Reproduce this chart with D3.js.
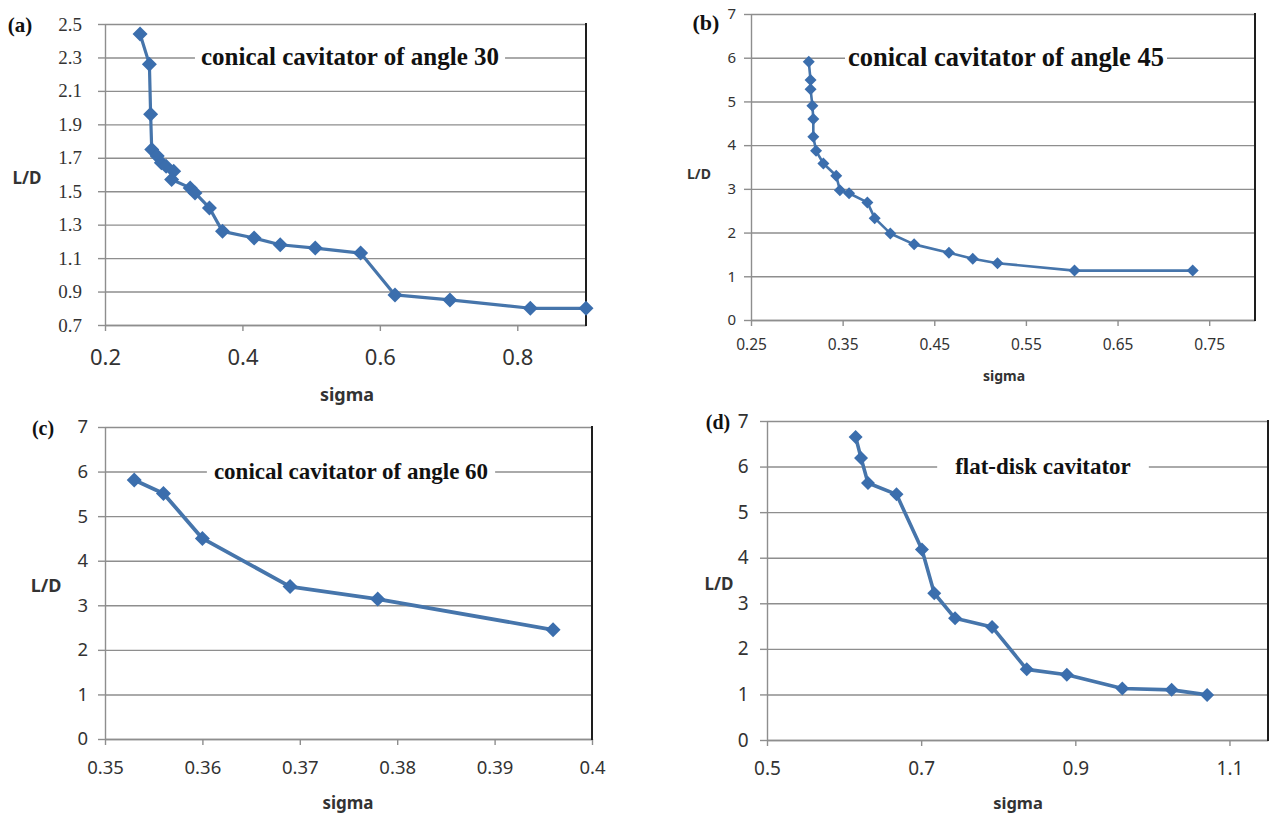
<!DOCTYPE html>
<html>
<head>
<meta charset="utf-8">
<script src="https://cdn.jsdelivr.net/npm/d3@7"></script>
<style>
    html, body { margin: 0; padding: 0; background: #fff; }
    svg { display: block; }
</style>
</head>
<body>
<svg id="chart" width="1271" height="814"></svg>
<script>
// (a) conical cavitator of angle 30
const sigmaA = [0.251, 0.2646, 0.2664, 0.268, 0.276, 0.282, 0.289, 0.300, 0.297, 0.324, 0.331, 0.352, 0.371,
    0.417, 0.455, 0.506, 0.572, 0.622, 0.702, 0.819, 0.900];
const ldA = [2.44, 2.26, 1.96, 1.75, 1.71, 1.67, 1.65, 1.62, 1.57, 1.52, 1.49, 1.40, 1.26,
    1.22, 1.18, 1.16, 1.13, 0.88, 0.85, 0.80, 0.80];
const xTicksA = [0.2, 0.4, 0.6, 0.8];
const yTicksA = [0.7, 0.9, 1.1, 1.3, 1.5, 1.7, 1.9, 2.1, 2.3, 2.5];

// (b) conical cavitator of angle 45
const sigmaB = [0.313, 0.315, 0.315, 0.317, 0.318, 0.318, 0.321, 0.329, 0.343, 0.347, 0.357, 0.377, 0.385,
    0.402, 0.428, 0.466, 0.492, 0.519, 0.603, 0.732];
const ldB = [5.91, 5.49, 5.28, 4.90, 4.60, 4.19, 3.87, 3.58, 3.30, 2.97, 2.90, 2.69, 2.33,
    1.98, 1.73, 1.54, 1.40, 1.30, 1.13, 1.13];
const xTicksB = [0.25, 0.35, 0.45, 0.55, 0.65, 0.75];
const yTicksB = [0, 1, 2, 3, 4, 5, 6, 7];

// (c) conical cavitator of angle 60
const sigmaC = [0.353, 0.356, 0.360, 0.369, 0.378, 0.396];
const ldC = [5.81, 5.51, 4.50, 3.42, 3.14, 2.45];
const xTicksC = [0.35, 0.36, 0.37, 0.38, 0.39, 0.4];
const yTicksC = [0, 1, 2, 3, 4, 5, 6, 7];

// (d) flat-disk cavitator
const sigmaD = [0.615, 0.622, 0.631, 0.668, 0.701, 0.717, 0.744, 0.792, 0.837, 0.889, 0.961, 1.025, 1.071];
const ldD = [6.65, 6.19, 5.64, 5.39, 4.18, 3.22, 2.67, 2.48, 1.55, 1.43, 1.13, 1.10, 0.99];
const xTicksD = [0.5, 0.7, 0.9, 1.1];
const yTicksD = [0, 1, 2, 3, 4, 5, 6, 7];

const titles = ["conical cavitator of angle 30", "conical cavitator of angle 45",
    "conical cavitator of angle 60", "flat-disk cavitator"];
const letters = ["(a)", "(b)", "(c)", "(d)"];

const panels = [
    {
        sigma: sigmaA, ld: ldA, xTicks: xTicksA, yTicks: yTicksA, xDomain: [0.2, 0.9], yDomain: [0.7, 2.5],
        left: 105, right: 586, top: 24, bottom: 325, titleAt: 2.3, titleX: 350, titleSize: 25, titlePad: 6,
        xFont: 22, xFamily: "'Noto Sans', sans-serif", xLabelDy: 32,
        yFont: 19, yFamily: "'Liberation Serif', serif", yGap: 23,
        letterX: 20, letterY: 25, letterSize: 21,
        ldX: 27, ldY: 177, ldSize: 17, sigX: 347, sigY: 394, sigSize: 18,
        lineW: 3.2, marker: 15,
    },
    {
        sigma: sigmaB, ld: ldB, xTicks: xTicksB, yTicks: yTicksB, xDomain: [0.25, 0.8], yDomain: [0, 7],
        left: 751, right: 1255, top: 14, bottom: 320, titleAt: 6, titleX: 1006, titleSize: 26.5, titlePad: 3,
        xFont: 15.5, xFamily: "'Noto Sans', sans-serif", xLabelDy: 25,
        yFont: 15, yFamily: "'Noto Sans', sans-serif", yGap: 15,
        letterX: 706, letterY: 22, letterSize: 22,
        ldX: 699, ldY: 173, ldSize: 14, sigX: 1004, sigY: 375, sigSize: 14,
        lineW: 2.6, marker: 12,
    },
    {
        sigma: sigmaC, ld: ldC, xTicks: xTicksC, yTicks: yTicksC, xDomain: [0.35, 0.4], yDomain: [0, 7],
        left: 105, right: 592, top: 427, bottom: 739, titleAt: 6, titleX: 351, titleSize: 23, titlePad: 7,
        xFont: 18.5, xFamily: "'Noto Sans', sans-serif", xLabelDy: 29,
        yFont: 18.5, yFamily: "'Noto Sans', sans-serif", yGap: 17,
        letterX: 43, letterY: 428, letterSize: 20,
        ldX: 46, ldY: 585, ldSize: 18, sigX: 348, sigY: 802, sigSize: 17,
        lineW: 3.8, marker: 15,
    },
    {
        sigma: sigmaD, ld: ldD, xTicks: xTicksD, yTicks: yTicksD, xDomain: [0.5, 1.15], yDomain: [0, 7],
        left: 767, right: 1268, top: 421, bottom: 740, titleAt: 6, titleX: 1043, titleSize: 23, titlePad: 18,
        xFont: 19, xFamily: "'Noto Sans', sans-serif", xLabelDy: 28,
        yFont: 19, yFamily: "'Noto Sans', sans-serif", yGap: 18.5,
        letterX: 718, letterY: 422, letterSize: 20,
        ldX: 719, ldY: 583, ldSize: 17, sigX: 1018, sigY: 802, sigSize: 16.5,
        lineW: 3.6, marker: 14,
    },
];

const svg = d3.select("#chart");
const gridColor = "#8e8e8e";
const lineColor = "#4675ab";
const markerColor = "#3b6ead";
const labelColor = "#333";
const fmt = d3.format("~g");

function drawPanel(p, i) {
    const g = svg.append("g");
    const x = d3.scaleLinear().domain(p.xDomain).range([p.left, p.right]);
    const y = d3.scaleLinear().domain(p.yDomain).range([p.bottom, p.top]);
    const w = p.right - p.left;
    const tick = 7;

    // gridlines
    g.append("g")
        .attr("transform", `translate(${p.left},0)`)
        .call(d3.axisRight(y).tickValues(p.yTicks).tickSize(w).tickFormat(""))
        .call((s) => s.select(".domain").remove())
        .call((s) => s.selectAll("line").attr("stroke", gridColor).attr("stroke-width", 1.4));

    // y axis
    g.append("g")
        .attr("transform", `translate(${p.left},0)`)
        .call(d3.axisLeft(y).tickValues(p.yTicks).tickSizeInner(tick).tickSizeOuter(0)
            .tickPadding(p.yGap - tick).tickFormat(fmt))
        .call((s) => s.select(".domain").attr("stroke", gridColor).attr("stroke-width", 1.4))
        .call((s) => s.selectAll("line").attr("stroke", gridColor).attr("stroke-width", 1.4))
        .call((s) => s.selectAll("text")
            .attr("fill", labelColor)
            .attr("font-family", p.yFamily)
            .attr("font-size", p.yFont));

    // x axis
    g.append("g")
        .attr("transform", `translate(0,${p.bottom})`)
        .call(d3.axisBottom(x).tickValues(p.xTicks).tickSizeInner(6).tickSizeOuter(0).tickFormat(fmt))
        .call((s) => s.select(".domain").attr("stroke", gridColor).attr("stroke-width", 1.4))
        .call((s) => s.selectAll("line").attr("stroke", gridColor).attr("stroke-width", 1.4))
        .call((s) => s.selectAll("text")
            .attr("y", p.xLabelDy)
            .attr("dy", "0.35em")
            .attr("fill", labelColor)
            .attr("font-family", p.xFamily)
            .attr("font-size", p.xFont));

    // dark right edge
    g.append("line")
        .attr("x1", p.right).attr("x2", p.right)
        .attr("y1", y(p.yDomain[1]) - 1).attr("y2", p.bottom + 1)
        .attr("stroke", "#1e1e1e").attr("stroke-width", 2);

    // title sitting on a gridline
    const tg = g.append("g");
    const tt = tg.append("text")
        .attr("x", p.titleX)
        .attr("y", y(p.titleAt))
        .attr("dy", "0.32em")
        .attr("text-anchor", "middle")
        .attr("font-family", "'Liberation Serif', 'Times New Roman', serif")
        .attr("font-weight", "bold")
        .attr("font-size", p.titleSize)
        .attr("fill", "#111")
        .text(titles[i]);
    const bb = tt.node().getBBox();
    tg.insert("rect", "text")
        .attr("x", bb.x - p.titlePad).attr("width", bb.width + 2 * p.titlePad)
        .attr("y", bb.y).attr("height", bb.height)
        .attr("fill", "#fff");

    // series
    const pts = p.sigma.map((s, k) => ({ s, v: p.ld[k] }));
    g.append("path")
        .datum(pts)
        .attr("fill", "none")
        .attr("stroke", lineColor)
        .attr("stroke-width", p.lineW)
        .attr("stroke-linejoin", "round")
        .attr("d", d3.line().x((d) => x(d.s)).y((d) => y(d.v)));

    const side = p.marker / Math.SQRT2;
    g.selectAll(".pt").data(pts).join("path")
        .attr("class", "pt")
        .attr("transform", (d) => `translate(${x(d.s)},${y(d.v)}) rotate(45)`)
        .attr("d", d3.symbol(d3.symbolSquare, side * side)())
        .attr("fill", markerColor);

    // panel letter and axis titles
    g.append("text")
        .attr("x", p.letterX).attr("y", p.letterY)
        .attr("text-anchor", "middle").attr("dominant-baseline", "central")
        .attr("font-family", "'Liberation Serif', serif").attr("font-weight", "bold")
        .attr("font-size", p.letterSize).attr("fill", "#111")
        .text(letters[i]);
    g.append("text")
        .attr("x", p.ldX).attr("y", p.ldY)
        .attr("text-anchor", "middle").attr("dominant-baseline", "central")
        .attr("font-family", "'Noto Sans', sans-serif").attr("font-weight", "bold")
        .attr("font-size", p.ldSize).attr("fill", "#333")
        .text("L/D");
    g.append("text")
        .attr("x", p.sigX).attr("y", p.sigY)
        .attr("text-anchor", "middle").attr("dominant-baseline", "central")
        .attr("font-family", "'Noto Sans', sans-serif").attr("font-weight", "bold")
        .attr("font-size", p.sigSize).attr("fill", "#333")
        .text("sigma");
}

panels.forEach(drawPanel);
</script>
</body>
</html>
